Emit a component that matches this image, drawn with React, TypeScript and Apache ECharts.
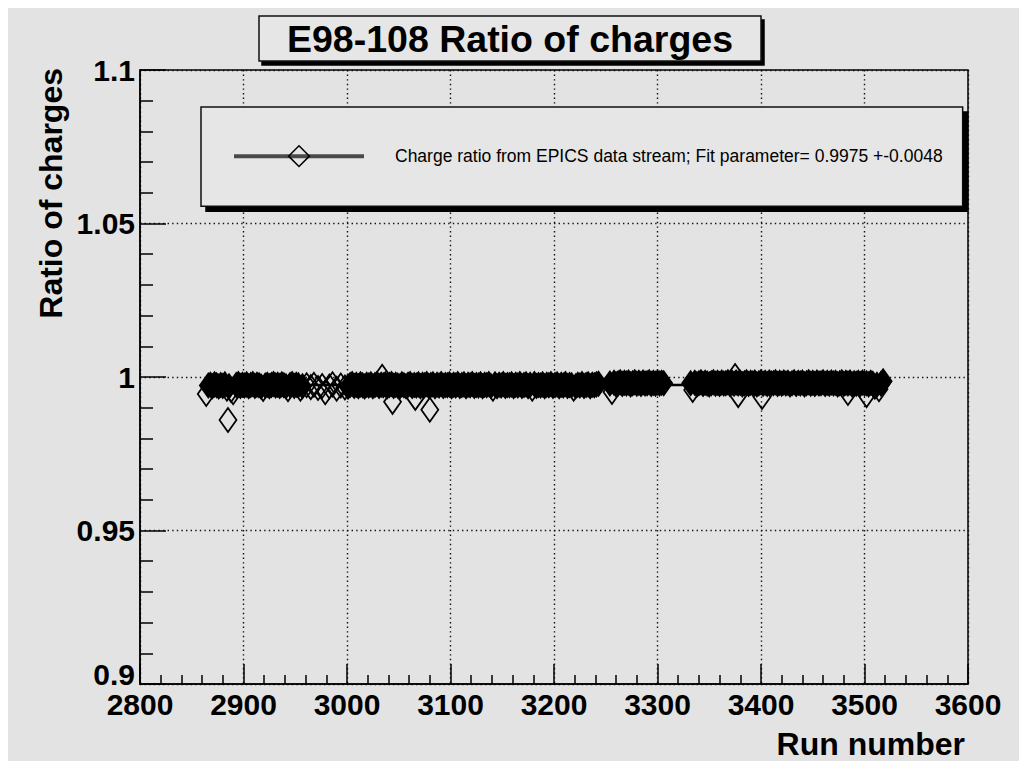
import { useEffect, useRef } from "react";
import * as echarts from "echarts";

// Titles and labels
const TITLE = "E98-108 Ratio of charges";
const SERIES_NAME = "Charge ratio from EPICS data stream; Fit parameter= 0.9975 +-0.0048";
const X_NAME = "Run number";
const Y_NAME = "Ratio of charges";

// Constant fitted to the ratios (quoted in the legend)
const FIT_VALUE = 0.9975;

// Axis ranges
const X_MIN = 2800;
const X_MAX = 3600;
const X_STEP = 100;
const Y_MIN = 0.9;
const Y_MAX = 1.1;
const Y_STEP = 0.05;

// First run block
const runsA = [
  2864, 2866, 2868, 2870, 2872, 2874, 2876, 2878, 2880, 2882, 2884, 2886, 2888, 2890,
  2893, 2895, 2897, 2899, 2901, 2903, 2905, 2907, 2909, 2911, 2913, 2915, 2917, 2919,
  2921, 2923, 2925, 2927, 2929, 2931, 2933, 2935, 2937, 2939, 2941, 2943, 2945, 2947,
  2949, 2951, 2953, 2955, 2957,
];
const ratiosA = [
  0.9945, 0.9972, 0.9975, 0.997, 0.9976, 0.9973, 0.9969, 0.9974, 0.9971, 0.9976, 0.9962, 0.997, 0.9958, 0.995,
  0.9974, 0.9977, 0.9971, 0.9975, 0.9972, 0.9976, 0.997, 0.9974, 0.9977, 0.9971, 0.9975, 0.9973, 0.9969, 0.9961,
  0.9972, 0.9975, 0.997, 0.9974, 0.9977, 0.9972, 0.9975, 0.9971, 0.9976, 0.9973, 0.997, 0.996, 0.9974, 0.9977,
  0.9971, 0.9975, 0.9973, 0.9962, 0.997,
];

// Sparse runs before 3000
const runsB = [2961, 2965, 2968, 2972, 2976, 2979, 2983, 2986, 2990, 2994, 2998];
const ratiosB = [0.9973, 0.9967, 0.9975, 0.9964, 0.9971, 0.995, 0.9969, 0.9976, 0.9962, 0.9972, 0.9966];

// Main block 3001-3243
const runsC = [
  3001, 3003, 3005, 3007, 3009, 3011, 3013, 3015, 3017, 3019,
  3021, 3023, 3025, 3027, 3029, 3031, 3033, 3035, 3037, 3039,
  3041, 3043, 3045, 3047, 3049, 3051, 3053, 3055, 3057, 3059,
  3061, 3063, 3065, 3067, 3069, 3071, 3073, 3075, 3077, 3079,
  3081, 3083, 3085, 3087, 3089, 3091, 3093, 3095, 3097, 3099,
  3101, 3103, 3105, 3107, 3109, 3111, 3113, 3115, 3117, 3119,
  3121, 3123, 3125, 3127, 3129, 3131, 3133, 3135, 3137, 3139,
  3141, 3143, 3145, 3147, 3149, 3151, 3153, 3155, 3157, 3159,
  3161, 3163, 3165, 3167, 3169, 3171, 3173, 3175, 3177, 3179,
  3181, 3183, 3185, 3187, 3189, 3191, 3193, 3195, 3197, 3199,
  3201, 3203, 3205, 3207, 3209, 3211, 3213, 3215, 3217, 3219,
  3221, 3223, 3225, 3227, 3229, 3231, 3233, 3235, 3237, 3239,
  3241, 3243,
];
const ratiosC = [
  0.9968, 0.9974, 0.9977, 0.9971, 0.9975, 0.997, 0.9976, 0.9973, 0.9969, 0.9975,
  0.9972, 0.9976, 0.997, 0.9974, 0.9977, 0.9971, 0.9975, 0.9973, 0.9976, 0.997,
  0.9974, 0.9977, 0.9971, 0.9975, 0.9972, 0.9969, 0.9976, 0.9973, 0.997, 0.9975,
  0.9977, 0.9971, 0.9974, 0.9972, 0.9976, 0.997, 0.9975, 0.9973, 0.9977, 0.9971,
  0.9974, 0.9976, 0.997, 0.9975, 0.9972, 0.9977, 0.9971, 0.9974, 0.9973, 0.9976,
  0.997, 0.9975, 0.9972, 0.9977, 0.9971, 0.9974, 0.9976, 0.997, 0.9975, 0.9973,
  0.9977, 0.9971, 0.9974, 0.9972, 0.9976, 0.997, 0.9975, 0.9973, 0.9977, 0.9971,
  0.9962, 0.9976, 0.997, 0.9975, 0.9972, 0.9977, 0.9971, 0.9974, 0.9973, 0.9976,
  0.997, 0.9975, 0.9972, 0.9977, 0.9971, 0.9974, 0.9976, 0.997, 0.9975, 0.9962,
  0.9977, 0.9971, 0.9974, 0.9972, 0.9976, 0.997, 0.9975, 0.9973, 0.9977, 0.9971,
  0.9974, 0.9976, 0.997, 0.9975, 0.9972, 0.9977, 0.9971, 0.9974, 0.9973, 0.9962,
  0.997, 0.9975, 0.9972, 0.9977, 0.9971, 0.9974, 0.9976, 0.997, 0.9975, 0.9973,
  0.9976, 0.9978,
];

// Block 3254-3306
const runsD = [
  3254, 3256, 3258, 3260, 3262, 3264, 3266, 3268, 3270, 3272, 3274, 3276, 3278, 3280,
  3282, 3284, 3286, 3288, 3290, 3292, 3294, 3296, 3298, 3300, 3302, 3304, 3306,
];
const ratiosD = [
  0.9979, 0.9951, 0.9981, 0.9976, 0.998, 0.9983, 0.9977, 0.9981, 0.9979, 0.9982, 0.9976, 0.998, 0.9983, 0.9978,
  0.9981, 0.9977, 0.9982, 0.9979, 0.998, 0.9983, 0.9977, 0.9981, 0.9978, 0.9982, 0.9979, 0.9981, 0.998,
];

// Block 3332-3518
const runsE = [
  3332,
  3334, 3336, 3338, 3340, 3342, 3344, 3346, 3348, 3350, 3352,
  3354, 3356, 3358, 3360, 3362, 3364, 3366, 3368, 3370, 3372,
  3374, 3376, 3378, 3380, 3382, 3384, 3386, 3388, 3390, 3392,
  3394, 3396, 3398, 3400, 3402, 3404, 3406, 3408, 3410, 3412,
  3414, 3416, 3418, 3420, 3422, 3424, 3426, 3428, 3430, 3432,
  3434, 3436, 3438, 3440, 3442, 3444, 3446, 3448, 3450, 3452,
  3454, 3456, 3458, 3460, 3462, 3464, 3466, 3468, 3470, 3472,
  3474, 3476, 3478, 3480, 3482, 3484, 3486, 3488, 3490, 3492,
  3494, 3496, 3498, 3500, 3502, 3504, 3506, 3508, 3510, 3512,
  3514, 3516, 3518,
];
const ratiosE = [
  0.998,
  0.9958, 0.9981, 0.9976, 0.998, 0.9983, 0.9977, 0.9981, 0.9979, 0.9976, 0.998,
  0.9983, 0.9978, 0.9981, 0.9977, 0.9982, 0.9979, 0.998, 0.9983, 0.9977, 0.9981,
  0.9978, 0.9982, 0.9979, 0.9981, 0.9976, 0.998, 0.9983, 0.9977, 0.9981, 0.9979,
  0.9982, 0.9976, 0.998, 0.9983, 0.9978, 0.9981, 0.9977, 0.9982, 0.9979, 0.998,
  0.9983, 0.9977, 0.9981, 0.9978, 0.9982, 0.9979, 0.9981, 0.9976, 0.998, 0.9983,
  0.9977, 0.9981, 0.9979, 0.9982, 0.9976, 0.998, 0.9983, 0.9978, 0.9981, 0.9977,
  0.9982, 0.9979, 0.998, 0.9983, 0.9977, 0.9981, 0.9978, 0.9982, 0.9979, 0.9981,
  0.9976, 0.998, 0.9983, 0.9977, 0.9981, 0.9979, 0.9982, 0.9976, 0.998, 0.9978,
  0.9981, 0.9977, 0.9982, 0.9979, 0.998, 0.9976, 0.9981, 0.9978, 0.9968, 0.9975,
  0.996, 0.9978, 0.9986,
];

// Runs that fall away from the main band
const outlierRuns = [2885, 3034, 3044, 3066, 3080, 3375, 3378, 3401, 3484, 3502];
const outlierRatios = [0.986, 1.0001, 0.9919, 0.9932, 0.9893, 1.0003, 0.9941, 0.9935, 0.9948, 0.9941];

const FONT = '"Liberation Sans", Arial, Helvetica, sans-serif';
const BG = "#e3e3e3";
const BOX_BG = "#e6e6e6";

type Pt = { value: [number, number]; itemStyle?: { color: string } };

// Densely packed runs overlap into a solid band, so their markers are drawn filled;
// markers that stick out of the band keep an open outline.
function toPoints(runs: number[], ratios: number[], packed: boolean): Pt[] {
  const n = Math.min(runs.length, ratios.length);
  const out: Pt[] = [];
  for (let i = 0; i < n; i++) {
    const inBand = packed && Math.abs(ratios[i] - FIT_VALUE) <= 0.0011;
    out.push(
      inBand
        ? { value: [runs[i], ratios[i]], itemStyle: { color: "#000" } }
        : { value: [runs[i], ratios[i]] }
    );
  }
  return out;
}

const points = [
  ...toPoints(runsA, ratiosA, true),
  ...toPoints(runsB, ratiosB, false),
  ...toPoints(runsC, ratiosC, true),
  ...toPoints(runsD, ratiosD, true),
  ...toPoints(runsE, ratiosE, true),
  ...toPoints(outlierRuns, outlierRatios, false),
].sort((a, b) => a.value[0] - b.value[0]);

const firstRun = points[0].value[0];
const lastRun = points[points.length - 1].value[0];

export default function App() {
  const ref = useRef<HTMLDivElement>(null);

  useEffect(() => {
    if (!ref.current) return;
    const chart = echarts.init(ref.current, undefined, { renderer: "svg" });

    const tickLine = { color: "#000", width: 1.5 };
    const dotted = { color: "#111", width: 1.4, type: [1.4, 3.2] as number[] };

    chart.setOption({
      animation: false,
      backgroundColor: BG,
      textStyle: { fontFamily: FONT },
      title: {
        text: TITLE,
        left: 251,
        top: 8,
        padding: [3, 28, 2, 28],
        backgroundColor: BOX_BG,
        borderColor: "#111",
        borderWidth: 1.5,
        shadowColor: "#000",
        shadowBlur: 0,
        shadowOffsetX: 3,
        shadowOffsetY: 4,
        textStyle: {
          fontFamily: FONT,
          fontSize: 37.5,
          fontWeight: "bold",
          color: "#000",
          lineHeight: 40,
        },
      },
      legend: {
        left: 193,
        top: 99,
        orient: "horizontal",
        padding: [38, 20, 39, 31],
        itemWidth: 130,
        itemHeight: 26,
        backgroundColor: BOX_BG,
        borderColor: "#111",
        borderWidth: 1.5,
        shadowColor: "#000",
        shadowBlur: 0,
        shadowOffsetX: 5,
        shadowOffsetY: 5,
        lineStyle: { color: "#4a4a4a", width: 4, opacity: 1 },
        itemStyle: { color: "rgba(0,0,0,0)", borderColor: "#000", borderWidth: 1.5 },
        textStyle: {
          fontFamily: FONT,
          fontSize: 17.5,
          color: "#000",
          padding: [0, 0, 0, 26],
        },
        data: [SERIES_NAME],
      },
      grid: {
        left: 132,
        top: 62,
        right: 51,
        bottom: 77,
        show: true,
        borderColor: "#000",
        borderWidth: 1.5,
        backgroundColor: "transparent",
      },
      xAxis: {
        type: "value",
        min: X_MIN,
        max: X_MAX,
        interval: X_STEP,
        name: X_NAME,
        nameLocation: "end",
        nameGap: -3,
        nameTextStyle: {
          fontFamily: FONT,
          fontSize: 32,
          fontWeight: "bold",
          color: "#000",
          align: "right",
          verticalAlign: "top",
          padding: [44, 0, 0, 0],
        },
        axisLine: { show: true, lineStyle: tickLine },
        axisTick: { show: true, inside: true, length: 20, lineStyle: tickLine },
        minorTick: { show: true, splitNumber: 5, length: 9, lineStyle: tickLine },
        splitLine: { show: true, lineStyle: dotted },
        axisLabel: {
          fontFamily: FONT,
          fontSize: 30,
          fontWeight: "bold",
          color: "#000",
          lineHeight: 24,
          margin: 8,
          showMinLabel: true,
          showMaxLabel: true,
          formatter: (v: number) => String(v),
        },
      },
      yAxis: {
        type: "value",
        min: Y_MIN,
        max: Y_MAX,
        interval: Y_STEP,
        name: Y_NAME,
        nameLocation: "end",
        nameGap: 2,
        nameRotate: 90,
        nameTextStyle: {
          fontFamily: FONT,
          fontSize: 32,
          fontWeight: "bold",
          color: "#000",
          align: "right",
          verticalAlign: "bottom",
          padding: [0, 0, 73, 0],
        },
        axisLine: { show: true, lineStyle: tickLine },
        axisTick: { show: true, inside: true, length: 26, lineStyle: tickLine },
        minorTick: { show: true, splitNumber: 5, length: 13, lineStyle: tickLine },
        splitLine: { show: true, lineStyle: dotted },
        axisLabel: {
          fontFamily: FONT,
          fontSize: 30,
          fontWeight: "bold",
          color: "#000",
          lineHeight: 24,
          margin: 5,
          formatter: (v: number) => {
            const s = String(Math.round(v * 100) / 100);
            // lowest label sits a little above the corner
            return v <= Y_MIN + 1e-9 ? `{low|${s}}` : s;
          },
          rich: {
            low: {
              fontFamily: FONT,
              fontSize: 30,
              fontWeight: "bold",
              color: "#000",
              lineHeight: 24,
              padding: [0, 0, 20, 0],
            },
          },
        },
      },
      series: [
        {
          name: SERIES_NAME,
          type: "line",
          data: points,
          showAllSymbol: true,
          symbol: "diamond",
          symbolSize: [17, 24],
          lineStyle: { color: "#000", width: 2.2, opacity: 0 },
          itemStyle: { color: "rgba(0,0,0,0)", borderColor: "#000", borderWidth: 1.8 },
          emphasis: { disabled: true },
          markLine: {
            silent: true,
            symbol: "none",
            label: { show: false },
            lineStyle: { color: "#000", width: 2.4, type: "solid", opacity: 1 },
            data: [[{ coord: [firstRun, FIT_VALUE] }, { coord: [lastRun, FIT_VALUE] }]],
          },
          z: 3,
        },
      ],
    });

    return () => chart.dispose();
  }, []);

  return (
    <div
      ref={ref}
      style={{ position: "fixed", left: 8, top: 8, width: 1011, height: 753 }}
    />
  );
}
